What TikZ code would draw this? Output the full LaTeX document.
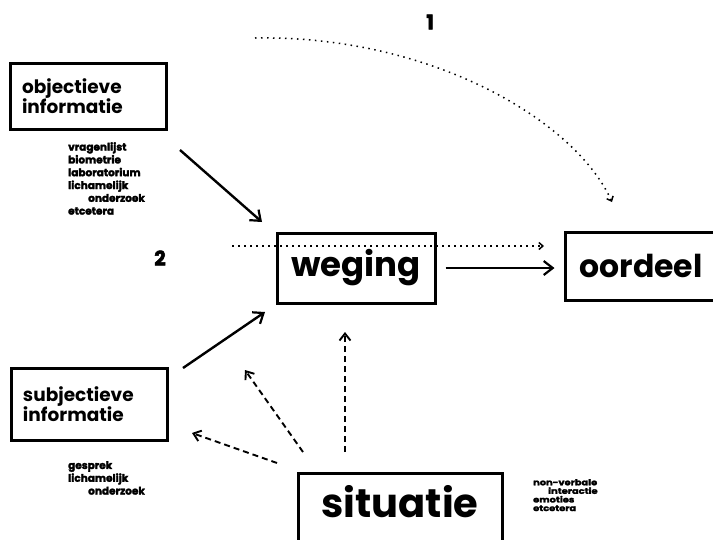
\documentclass[tikz,border=0pt]{standalone}
\usepackage{fontspec}
\setmainfont{Poppins}
\newfontfamily\heavyfont{Poppins}[BoldFeatures={FakeBold=2.5}]
\newfontfamily\wideheavy{Poppins}[FakeStretch=1.2, BoldFeatures={FakeBold=2.5}]
\usetikzlibrary{arrows.meta}
\tikzset{
  box/.style={draw, line width=3pt, inner sep=0pt, font=\bfseries},
  infobox/.style={box, align=left, text width=132pt, inner xsep=12pt, minimum height=66pt, font=\bfseries\fontsize{18.5}{20.5}\selectfont},
  solidarrow/.style={line width=2.4pt, -{Straight Barb[length=9pt,width=14pt,line width=2.2pt]}},
  dasharrow/.style={line width=1.9pt, dash pattern=on 6pt off 4pt, -{Straight Barb[length=7pt,width=11pt,line width=1.9pt]}},
  dotarrow/.style={line width=1.5pt, dash pattern=on 1.5pt off 4.5pt, -{Straight Barb[length=4pt,width=7pt,line width=1.5pt]}},
  listtext/.style={align=left, inner sep=0pt, anchor=north west, font=\heavyfont\bfseries\fontsize{10.5}{12.8}\selectfont},
  smalllist/.style={align=left, inner sep=0pt, anchor=north west, font=\wideheavy\bfseries\fontsize{8.2}{8.6}\selectfont},
  numlabel/.style={font=\heavyfont\bfseries\fontsize{20}{20}\selectfont, inner sep=0pt}
}
\begin{document}
\begin{tikzpicture}[x=1pt,y=-1pt]
\useasboundingbox (0,0) rectangle (713,539);
\clip (0,0) rectangle (713,539);
\fill[white] (0,0) rectangle (713,539);

\node[infobox] (obj) at (88,96) {objectieve\\informatie};
\node[infobox, minimum height=72pt] (subj) at (89,404) {subjectieve\\informatie};
\node[box, minimum width=158pt, minimum height=70pt, font=\bfseries\fontsize{34}{34}\selectfont] (weging) at (356,268) {weging};
\node[box, minimum width=152pt, minimum height=68pt, font=\bfseries\fontsize{31.5}{32}\selectfont] (oordeel) at (641,266) {oordeel};
\node[box, anchor=north, minimum width=204pt, text height=44pt, text depth=50pt, font=\bfseries\fontsize{40}{40}\selectfont] (situatie) at (400,472) {situatie};

\node[listtext] (objlist) at (68,142) {vragenlijst\\biometrie\\laboratorium\\lichamelijk\\\hspace*{20pt}onderzoek\\etcetera};
\node[listtext] (subjlist) at (68,461) {gesprek\\lichamelijk\\\hspace*{20pt}onderzoek};
\node[smalllist] (sitlist) at (533,479) {non-verbale\\\hspace*{15pt}interactie\\emoties\\etcetera};

\node[numlabel] (one) at (430,22) {1};
\node[numlabel] (two) at (160,258) {2};

% solid arrows
\coordinate (objout) at (180,150);
\coordinate (wegin1) at (262,222);
\coordinate (subjout) at (183,368);
\coordinate (wegin2) at (265,312);
\draw[solidarrow] (objout) -- (wegin1);
\draw[solidarrow] (subjout) -- (wegin2);
\draw[solidarrow] ([xshift=9pt]weging.east) -- ([xshift=-9pt]oordeel.west |- weging.east);

% dashed arrows from situatie
\coordinate (s1) at (345,452);
\coordinate (w1) at (345,332);
\coordinate (s2) at (303,452);
\coordinate (w2) at (245,370);
\coordinate (s3) at (277,463);
\coordinate (w3) at (192,433);
\draw[dasharrow] (s1) -- (w1);
\draw[dasharrow] (s2) -- (w2);
\draw[dasharrow] (s3) -- (w3);

% dotted arrows
\coordinate (a1) at (255,38);
\coordinate (a2) at (612,202);
\draw[dotarrow] (a1) .. controls (430,35) and (575,120) .. (a2);
\coordinate (b1) at (232,246);
\coordinate (b2) at (544,246);
\draw[dotarrow] (b1) -- (b2);
\end{tikzpicture}
\end{document}
